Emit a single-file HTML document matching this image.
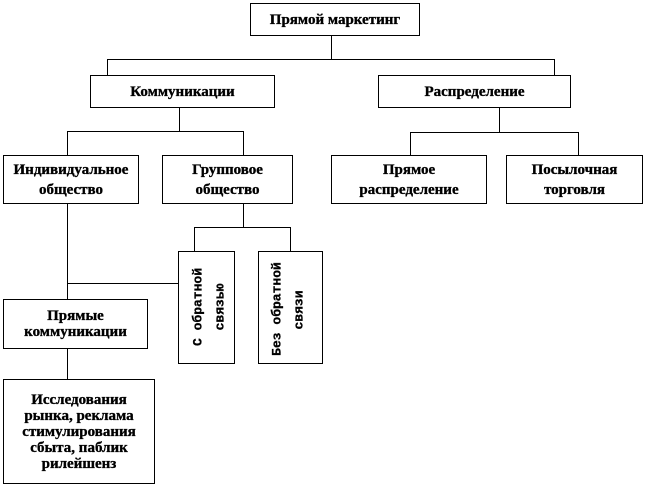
<!DOCTYPE html>
<html><head><meta charset="utf-8"><style>
html,body{margin:0;padding:0;background:#fff;}
body{width:646px;height:486px;position:relative;overflow:hidden;}
.b{position:absolute;box-sizing:border-box;border:1px solid #000;display:flex;align-items:center;justify-content:center;text-align:center;font-family:"Liberation Serif","DejaVu Serif",serif;font-weight:bold;font-size:15px;line-height:20px;color:#000;-webkit-text-stroke:0.35px #000;}
.v{position:absolute;font-family:"Liberation Mono","DejaVu Sans Mono",monospace;font-weight:bold;font-size:13px;line-height:13px;white-space:nowrap;transform:translate(-50%,-50%) rotate(-90deg);color:#000;-webkit-text-stroke:0.3px #000;}
svg{position:absolute;left:0;top:0;}
</style></head><body>
<svg width="646" height="486" shape-rendering="crispEdges">
<g stroke="#000" stroke-width="1" fill="none">
<line x1="331.5" y1="35" x2="331.5" y2="59.5"/>
<line x1="107" y1="59.5" x2="555" y2="59.5"/>
<line x1="107.5" y1="59" x2="107.5" y2="76"/>
<line x1="554.5" y1="59" x2="554.5" y2="76"/>
<line x1="179.5" y1="108" x2="179.5" y2="131.5"/>
<line x1="67" y1="131.5" x2="244" y2="131.5"/>
<line x1="67.5" y1="131" x2="67.5" y2="155"/>
<line x1="243.5" y1="131" x2="243.5" y2="155"/>
<line x1="499.5" y1="108" x2="499.5" y2="132.5"/>
<line x1="410" y1="132.5" x2="579" y2="132.5"/>
<line x1="410.5" y1="132" x2="410.5" y2="155"/>
<line x1="578.5" y1="132" x2="578.5" y2="155"/>
<line x1="243.5" y1="203" x2="243.5" y2="227.5"/>
<line x1="194" y1="227.5" x2="291" y2="227.5"/>
<line x1="194.5" y1="227" x2="194.5" y2="251"/>
<line x1="290.5" y1="227" x2="290.5" y2="251"/>
<line x1="67.5" y1="203" x2="67.5" y2="299"/>
<line x1="67" y1="283.5" x2="178" y2="283.5"/>
<line x1="67.5" y1="348" x2="67.5" y2="379"/>
</g></svg>

<div class="b" style="left:250px;top:3px;width:170px;height:33px;">Прямой маркетинг</div>
<div class="b" style="left:90px;top:75px;width:185px;height:33px;">Коммуникации</div>
<div class="b" style="left:378px;top:75px;width:193px;height:33px;">Распределение</div>
<div class="b" style="left:3px;top:155px;width:136px;height:49px;">Индивидуальное<br>общество</div>
<div class="b" style="left:162px;top:155px;width:131px;height:49px;">Групповое<br>общество</div>
<div class="b" style="left:331px;top:155px;width:156px;height:49px;">Прямое<br>распределение</div>
<div class="b" style="left:506px;top:155px;width:137px;height:49px;">Посылочная<br>торговля</div>
<div class="b" style="left:178px;top:251px;width:57px;height:113px;"></div>
<div class="b" style="left:258px;top:251px;width:65px;height:113px;"></div>
<div class="b" style="left:3px;top:299px;width:145px;height:50px;line-height:16px;">Прямые<br>коммуникации</div>
<div class="b" style="left:3px;top:379px;width:152px;height:105px;line-height:16px;">Исследования<br>рынка, реклама<br>стимулирования<br>сбыта, паблик<br>рилейшенз</div>

<div class="v" style="left:198px;top:307px;">С обратной</div>
<div class="v" style="left:220px;top:307px;">связью</div>
<div class="v" style="left:277px;top:309px;">Без обратной</div>
<div class="v" style="left:299px;top:310px;">связи</div>
</body></html>
